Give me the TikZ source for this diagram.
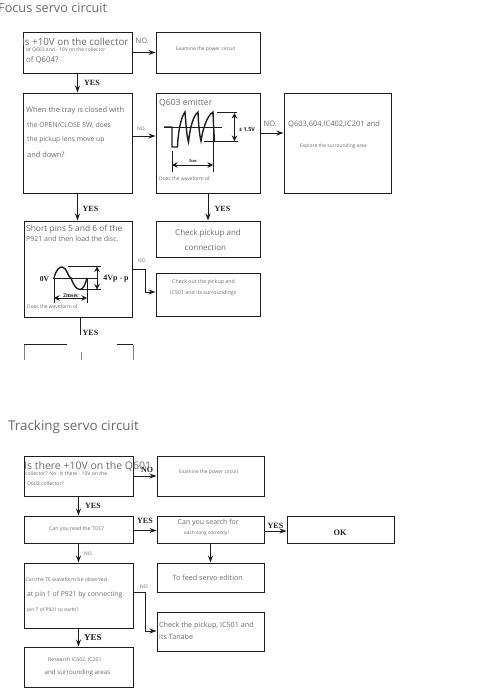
\documentclass[tikz,border=0pt]{standalone}
\usepackage{fontspec}
\setmainfont{Open Sans}
\newfontfamily\yesfont{Liberation Serif}
\usetikzlibrary{arrows.meta,calc}
\definecolor{ink}{HTML}{1E1E1E}
\definecolor{gtext}{HTML}{6A6A6A}
\newcommand{\lbl}[5]{\node[lab,font=\fontsize{#4}{#4}\selectfont] (#1) at (#2,#3) {#5};}
\newcommand{\ylbl}[5]{\node[ylab,font=\yesfont\bfseries\fontsize{#4}{#4}\selectfont] (#1) at (#2,#3) {#5};}
\newcommand{\bx}[5]{\node[boxn,minimum width=#4-#2,minimum height=#5-#3] (#1) at ({(#2+#4)/2},{(#3+#5)/2}) {};}
\tikzset{
  lab/.style={anchor=west,inner sep=0pt,text=gtext},
  ylab/.style={anchor=center,inner sep=0pt,text=ink},
  boxn/.style={draw=ink,line width=1pt,inner sep=0pt,fill=none},
  arr/.style={draw=ink,line width=1pt,-{Stealth[length=7pt,width=5pt]}},
  wave/.style={draw=ink,line width=1.4pt},
  thin/.style={draw=ink,line width=0.8pt},
  dim/.style={draw=ink,line width=0.8pt,{Stealth[length=5.5pt,width=5.5pt]}-{Stealth[length=5.5pt,width=5.5pt]}}
}
\begin{document}
\begin{tikzpicture}[x=1pt,y=-1pt]
\useasboundingbox (0,0) rectangle (496,688);
% ---- Focus servo
\lbl{t1}{-2}{8}{12.7}{Focus servo circuit}
\bx{a}{23}{32}{132}{73}
\bx{ae}{156}{32}{260}{73}
\bx{b}{23}{93}{132}{193}
\bx{q}{156}{93}{260}{193}
\bx{r}{284}{93}{391}{193}
\bx{s}{24}{221}{132}{317}
\bx{cp}{156}{221}{260}{257}
\bx{co}{156}{273}{260}{316}
% partial box (faded)
\coordinate (pl) at (24,360);
\coordinate (pr) at (133,360);
\coordinate (ptl) at (24,344.5);
\coordinate (ptr) at (133,344.5);
\coordinate (pa) at (67,344.5);
\coordinate (pb) at (117,344.5);
\draw[thin] (pa) -- (ptl);
\draw[thin] (pb) -- (ptr);
\draw[draw=gray,line width=0.7pt] (ptl) -- (pl);
\draw[draw=gray,line width=0.7pt] (ptr) -- (pr);
\coordinate (pm1) at (81,352);
\coordinate (pm2) at (81,360);
\draw[draw=gray,line width=0.5pt] (pm1) -- (pm2);

\lbl{a1}{22}{41.5}{9.8}{Is +10V on the collector}
\lbl{a2}{26}{50}{5}{of Q603 and - 10V on the collector}
\lbl{a3}{26}{60}{7.8}{of Q604?}
\lbl{ae1}{176}{49}{4.9}{Examine the power circuit}
\lbl{b1}{26}{111}{7.5}{When the tray is closed with}
\lbl{b2}{27}{125.5}{6.8}{the OPEN/CLOSE SW, does}
\lbl{b3}{27}{140}{6.8}{the pickup lens move up}
\lbl{b4}{27}{155}{7.4}{and down?}
\lbl{q1}{159}{103}{8.6}{Q603 emitter}
\lbl{q2}{159}{178.5}{4.9}{Does the waveform of}
\lbl{r1}{288}{124}{7.5}{Q603,604,IC402,IC201 and}
\lbl{r2}{300}{146}{4.9}{Explore the surrounding area}
\lbl{s1}{26}{229}{8.4}{Short pins 5 and 6 of the}
\lbl{s2}{26}{238.5}{7}{P921 and then load the disc.}
\lbl{s3}{27}{307}{4.9}{Does the waveform of}
\lbl{cp1}{175}{233}{8}{Check pickup and}
\lbl{cp2}{184.5}{248}{8}{connection}
\lbl{co1}{172}{282}{5.3}{Check out the pickup and}
\lbl{co2}{170}{293}{5.3}{IC501 and its surroundings}

% Focus connectors
\draw[arr] (a.east) -- (ae.west);
\draw[arr] (a.south -| b.north) -- (b.north);
\draw[arr] ([yshift=7pt]b.east) -- ([yshift=7pt]q.west);
\draw[arr] ([yshift=10pt]q.east) -- ([yshift=10pt]r.west);
\draw[arr] (b.south) -- (b.south |- s.north);
\draw[arr] (q.south) -- (cp.north);
\coordinate (sb) at (145,269);
\coordinate (sc) at (145,292);
\draw[arr] (s.east |- sb) -- (sb) -- (sc) -- (co.west |- sc);
\coordinate (sd) at (80.5,335);
\draw[draw=ink,line width=1pt] (s.south -| sd) -- (sd);
\lbl{n1}{135.5}{41}{7.5}{NO.}
\lbl{n2}{137}{129}{4.9}{NO.}
\lbl{n3}{263.5}{124}{7.5}{NO.}
\lbl{n4}{138}{261}{4.9}{NO.}
\ylbl{y1}{92}{83}{8}{YES}
\ylbl{y2}{90.5}{209}{8}{YES}
\ylbl{y3}{222.5}{209}{8}{YES}
\begin{scope}
\clip (60,325) rectangle (120,334);
\ylbl{y4}{90.5}{332.5}{8}{YES}
\end{scope}

% Q603 waveform
\coordinate (w0) at (164,127);
\coordinate (w1) at (222,127);
\draw[thin] (w0) -- (w1);
\draw[wave] (164,127) -- (172,127) -- (172,147) -- (177.5,147) .. controls (178,132) and (181,117) .. (185,112)
  .. controls (186,125) and (187,138) .. (188.5,142) .. controls (190,128) and (193,116) .. (198,112)
  .. controls (198.5,125) and (199.5,135) .. (201,141) .. controls (203,128) and (207,116) .. (213,112)
  .. controls (213.5,125) and (214,135) .. (214.5,141);
\draw[thin] (217,112) -- (237,112);
\draw[thin] (204,141) -- (238,141);
\draw[dim] (234.5,113) -- (234.5,141);
\draw[thin] (172,151) -- (172,172);
\draw[thin] (213,113) -- (213,172);
\draw[dim] (172,165) -- (213,165);
\node[ylab,font=\yesfont\bfseries\fontsize{4.6}{4.6}\selectfont] (w3) at (193,161) {3sec};
\node[ylab,font=\fontsize{5.4}{5.4}\selectfont] (w4) at (247,129.5) {\textbf{± 1.5V}};

% sine waveform
\draw[thin] (53,278) -- (97,278);
\draw[wave] (54,278) .. controls (56,270) and (59,267) .. (62,267)
  .. controls (67,267) and (68,278) .. (71,278)
  .. controls (73,284) and (76,289.5) .. (80,289.5)
  .. controls (83,289.5) and (85.5,284) .. (87,278);
\draw[thin] (68,266) -- (101,266);
\draw[thin] (80,289.5) -- (101,289.5);
\draw[dim] (97,266.5) -- (97,289.5);
\draw[thin] (54,278) -- (54,303);
\draw[thin] (87,278) -- (87,303);
\draw[dim] (54,298) -- (87,298);
\ylbl{v0}{44.5}{279}{7.6}{0V}
\ylbl{v4}{116}{278.5}{8}{4Vp - p}
\ylbl{v2}{71}{296}{6}{2msec}

% ---- Tracking
\lbl{t2}{8}{427}{13.4}{Tracking servo circuit}
\bx{ta}{24}{456}{133}{496}
\bx{te}{157}{456}{264}{496}
\bx{tb}{24}{516}{133}{543}
\bx{tc}{157}{516}{264}{543}
\bx{ok}{287}{516}{394}{543}
\bx{tf}{157}{563}{264}{592}
\bx{td}{24}{563}{133}{628}
\bx{tk}{157}{612}{264}{651}
\bx{tr}{24}{647}{133}{687}

\draw[arr] (ta.east) -- (te.west);
\draw[arr] (ta.south) -- (tb.north);
\draw[arr] ([yshift=-1pt]tb.east) -- ([yshift=-1pt]tc.west);
\draw[arr] ([yshift=-1.5pt]tc.east) -- ([yshift=-1.5pt]ok.west);
\draw[arr] (tb.south) -- (td.north);
\draw[arr] (tc.south) -- (tf.north);
\draw[arr] (td.south) -- (tr.north);
\coordinate (tx) at (145,592);
\coordinate (ty) at (145,631);
\draw[arr] (td.east |- tx) -- (tx) -- (ty) -- (tk.west |- ty);

\ylbl{n5}{147}{470}{8}{NO}
\lbl{ta1}{24}{466}{10.5}{Is there +10V on the Q601}
\lbl{ta2}{25}{474}{5.1}{collector? No. Is there - 10V on the}
\lbl{ta3}{27}{483.5}{5.1}{Q602 collector?}
\lbl{te1}{179}{472}{4.9}{Examine the power circuit}
\lbl{tb1}{49}{529}{5.2}{Can you read the TOC?}
\lbl{tc1}{177.5}{522.5}{7}{Can you search for}
\lbl{tc2}{184}{533}{4.8}{each song correctly?}
\ylbl{ok1}{340}{533}{8.3}{OK}
\lbl{tf1}{172.5}{577.5}{7.2}{To feed servo edition}
\lbl{td1}{25.5}{580}{5.1}{Can the TE waveform be observed}
\lbl{td2}{27}{595}{6.8}{at pin 1 of P921 by connecting}
\lbl{td3}{27}{610}{4.9}{pin 7 of P921 to earth?}
\lbl{tk1}{159}{625.5}{7.2}{Check the pickup, IC501 and}
\lbl{tk2}{159}{636.5}{7.2}{its Tanabe}
\lbl{tr1}{48}{660}{5.2}{Research IC602, IC201}
\lbl{tr2}{44.5}{673}{6.2}{and surrounding areas}
\ylbl{y5}{93}{506}{8}{YES}
\ylbl{y6}{145}{521}{8}{YES}
\ylbl{y7}{275.5}{526}{8}{YES}
\ylbl{y8}{93}{637.5}{9}{YES}
\lbl{n6}{84}{553.5}{4.9}{NO.}
\lbl{n7}{140}{587}{4.9}{NO.}
\end{tikzpicture}
\end{document}
